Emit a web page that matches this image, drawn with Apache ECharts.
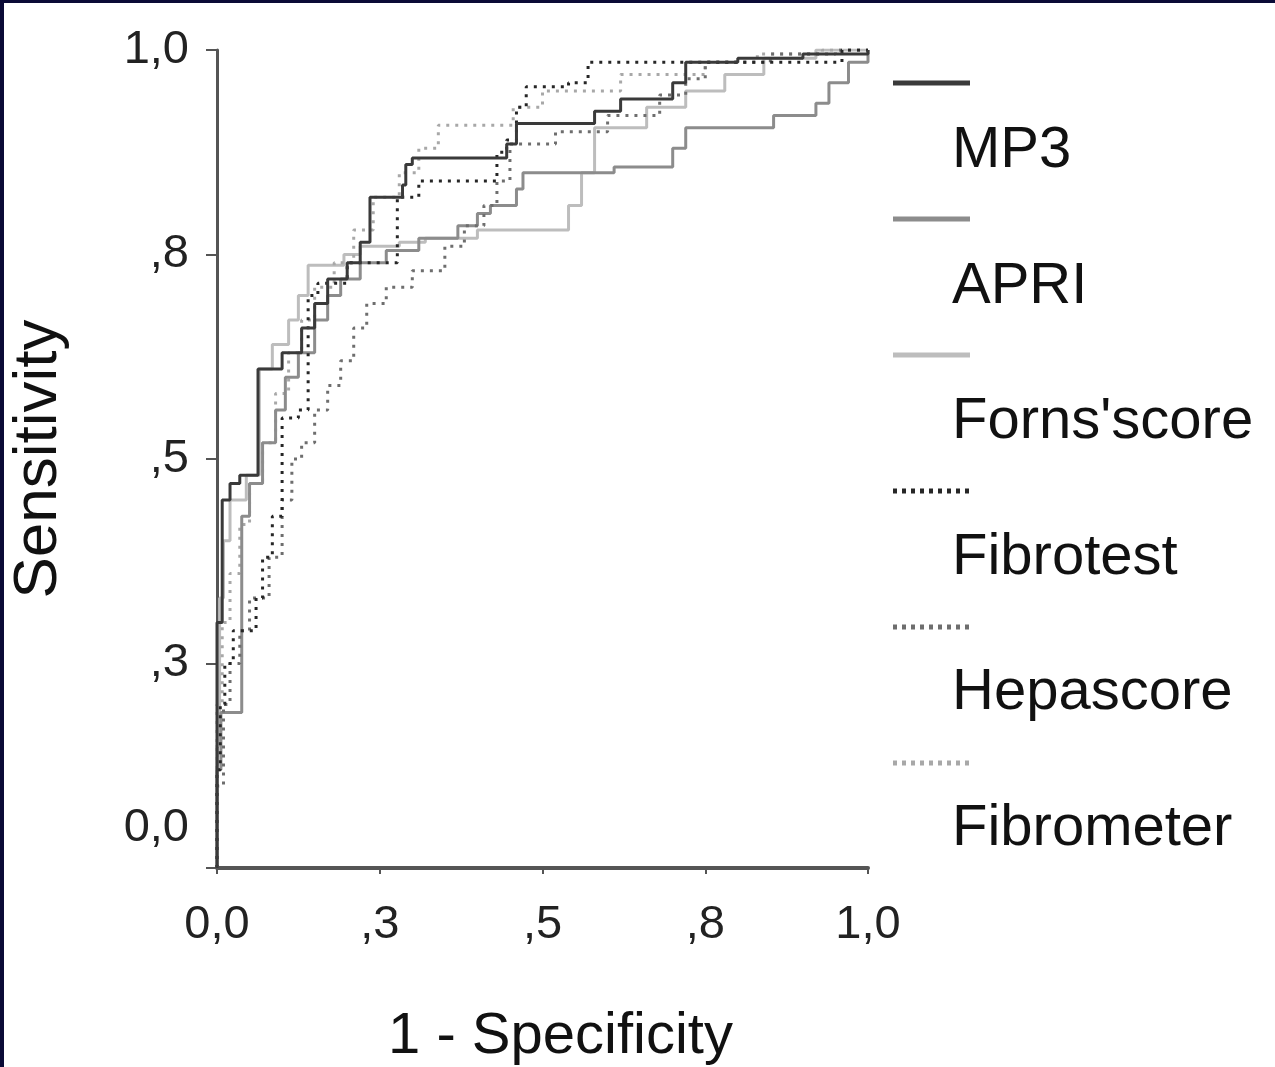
<!DOCTYPE html>
<html><head><meta charset="utf-8">
<script src="https://cdn.jsdelivr.net/npm/echarts/dist/echarts.min.js"></script>
<style>
html,body{margin:0;padding:0;width:1275px;height:1067px;background:#0a0a36;overflow:hidden}
#c{position:absolute;left:4px;top:3px;width:1271px;height:1064px;background:#fff}
</style></head><body><div id="c"></div>
<script>
// Tick positions and their printed labels (rounded to one decimal, as in the source)
const tickValues = [0, 0.25, 0.5, 0.75, 1];
const tickLabels = ['0,0', ',3', ',5', ',8', '1,0'];
const seriesNames = ['MP3', 'APRI', "Forns'score", 'Fibrotest', 'Hepascore', 'Fibrometer'];

// ROC curves: each point = (1 - specificity, sensitivity) reached after a vertical step
const mp3X = [0,0,0.008,0.02,0.035,0.063,0.10,0.13,0.15,0.17,0.20,0.22,0.235,0.285,0.29,0.30,0.445,0.46,0.58,0.62,0.70,0.72,0.80,0.90,1];
const mp3Y = [0,0.30,0.45,0.47,0.48,0.61,0.63,0.66,0.69,0.72,0.74,0.765,0.82,0.835,0.86,0.868,0.885,0.91,0.925,0.94,0.96,0.985,0.99,0.995,1];

const apriX = [0,0,0.006,0.038,0.05,0.07,0.09,0.105,0.125,0.15,0.17,0.19,0.22,0.26,0.31,0.37,0.40,0.42,0.46,0.47,0.61,0.70,0.72,0.855,0.92,0.94,0.97,1];
const apriY = [0,0.12,0.19,0.43,0.47,0.52,0.56,0.60,0.63,0.67,0.70,0.72,0.74,0.755,0.77,0.785,0.80,0.81,0.83,0.85,0.857,0.88,0.905,0.92,0.935,0.96,0.985,1];

const fornsX = [0,0,0.004,0.01,0.02,0.045,0.065,0.085,0.11,0.125,0.14,0.195,0.22,0.28,0.32,0.40,0.54,0.56,0.58,0.66,0.72,0.78,0.84,0.92,1];
const fornsY = [0,0.15,0.33,0.40,0.45,0.48,0.61,0.64,0.67,0.70,0.737,0.75,0.76,0.765,0.77,0.78,0.81,0.85,0.905,0.93,0.95,0.97,0.99,1,1];

const fibrotestX = [0,0,0.005,0.012,0.025,0.06,0.07,0.085,0.10,0.125,0.14,0.155,0.20,0.277,0.31,0.43,0.445,0.46,0.475,0.54,0.57,0.96,1];
const fibrotestY = [0,0.12,0.2,0.25,0.29,0.33,0.38,0.43,0.55,0.56,0.70,0.715,0.74,0.82,0.84,0.875,0.89,0.93,0.955,0.96,0.985,1,1];

const hepaX = [0,0,0.01,0.02,0.035,0.05,0.08,0.10,0.115,0.13,0.15,0.17,0.19,0.21,0.23,0.26,0.30,0.35,0.38,0.41,0.43,0.45,0.52,0.60,0.68,0.72,0.75,0.85,0.95,1];
const hepaY = [0,0.10,0.20,0.25,0.29,0.33,0.38,0.45,0.50,0.52,0.56,0.59,0.62,0.66,0.69,0.71,0.73,0.76,0.785,0.81,0.84,0.885,0.90,0.92,0.945,0.965,0.985,0.995,1,1];

const fibrometerX = [0,0,0.008,0.02,0.035,0.05,0.07,0.09,0.11,0.13,0.15,0.18,0.21,0.24,0.28,0.31,0.34,0.455,0.50,0.62,0.75,0.83,0.93,1];
const fibrometerY = [0,0.2,0.30,0.36,0.42,0.47,0.52,0.58,0.63,0.67,0.71,0.74,0.78,0.82,0.85,0.88,0.908,0.93,0.95,0.97,0.985,0.995,1,1];

const curves = [
  {name: seriesNames[0], x: mp3X, y: mp3Y, color: '#3a3a3a', type: 'solid', width: 3, z: 10},
  {name: seriesNames[1], x: apriX, y: apriY, color: '#8c8c8c', type: 'solid', width: 3, z: 6},
  {name: seriesNames[2], x: fornsX, y: fornsY, color: '#bdbdbd', type: 'solid', width: 3, z: 4},
  {name: seriesNames[3], x: fibrotestX, y: fibrotestY, color: '#262626', type: [3, 6], width: 3, z: 9},
  {name: seriesNames[4], x: hepaX, y: hepaY, color: '#6e6e6e', type: [3, 6], width: 3, z: 7},
  {name: seriesNames[5], x: fibrometerX, y: fibrometerY, color: '#a8a8a8', type: [3, 6], width: 3, z: 5}
];

const fmt = v => { const i = tickValues.findIndex(t => Math.abs(t - v) < 1e-9); return i >= 0 ? tickLabels[i] : ''; };
const font = '"Liberation Sans", Arial, sans-serif';

const chart = echarts.init(document.getElementById('c'), null, {renderer: 'canvas'});

const legendGraphics = [];
curves.forEach((c, i) => {
  const ly = 80 + 136 * i;
  const ty = 148 + 135.6 * i;
  legendGraphics.push({
    type: 'line', shape: {x1: 889, y1: ly, x2: 966, y2: ly},
    style: {stroke: c.color, lineWidth: 5, lineDash: c.type === 'solid' ? null : [4, 5]}
  });
  legendGraphics.push({
    type: 'text', x: 948, y: ty,
    style: {text: c.name, font: '58px ' + font, fill: '#111', textVerticalAlign: 'middle', textAlign: 'left'}
  });
});

chart.setOption({
  animation: false,
  backgroundColor: '#ffffff',
  grid: {left: 213, top: 47, width: 651, height: 818, containLabel: false, outerBoundsMode: 'none'},
  xAxis: {
    type: 'value', min: 0, max: 1, interval: 0.25,
    name: '1 - Specificity', nameLocation: 'middle', nameGap: 140,
    nameTextStyle: {fontFamily: font, fontSize: 58, color: '#111', padding: [0, 0, 0, 36]},
    axisLine: {show: true, onZero: false, lineStyle: {color: '#555', width: 4}},
    axisTick: {show: true, length: 6, lineStyle: {color: '#555', width: 2}},
    axisLabel: {formatter: fmt, fontFamily: font, fontSize: 47, color: '#222', margin: 34, showMinLabel: true, showMaxLabel: true},
    splitLine: {show: false}
  },
  yAxis: {
    type: 'value', min: 0, max: 1, interval: 0.25,
    name: 'Sensitivity', nameLocation: 'middle', nameGap: 147, nameRotate: 90,
    nameTextStyle: {fontFamily: font, fontSize: 62, color: '#111'},
    axisLine: {show: true, onZero: false, lineStyle: {color: '#555', width: 3}},
    axisTick: {show: true, length: 11, lineStyle: {color: '#555', width: 2}},
    axisLabel: {
      formatter: v => v === 0 ? '{z|' + fmt(v) + '}' : fmt(v),
      fontFamily: font, fontSize: 47, color: '#222', margin: 28,
      rich: {z: {fontFamily: font, fontSize: 47, color: '#222', padding: [0, 0, 80, 0]}}
    },
    splitLine: {show: false}
  },
  series: curves.map(c => ({
    name: c.name, type: 'line', step: 'end', showSymbol: false, symbol: 'none', z: c.z,
    data: c.x.map((v, i) => [v, c.y[i]]),
    lineStyle: {color: c.color, width: c.width, type: c.type}
  })),
  graphic: legendGraphics
});
</script></body></html>
